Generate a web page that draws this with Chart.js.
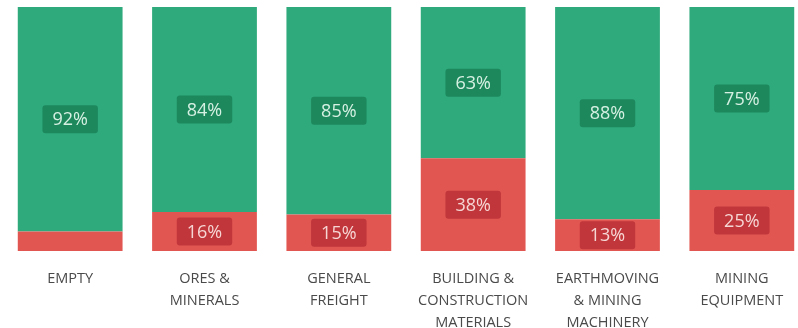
<!DOCTYPE html>
<html>
<head>
<meta charset="utf-8">
<script src="https://cdn.jsdelivr.net/npm/chart.js@4.4.1/dist/chart.umd.min.js"></script>
<style>
  html, body { margin: 0; padding: 0; background: #fff; overflow: hidden; }
  #wrap { width: 798px; height: 328px; overflow: hidden; position: relative; }
  canvas { position: absolute; left: 0; top: 0; }
</style>
</head>
<body>
<div id="wrap"><canvas id="cargoChart" width="812" height="351"></canvas></div>
<script>
const categories = [
  ["EMPTY"],
  ["ORES &", "MINERALS"],
  ["GENERAL", "FREIGHT"],
  ["BUILDING &", "CONSTRUCTION", "MATERIALS"],
  ["EARTHMOVING", "& MINING", "MACHINERY"],
  ["MINING", "EQUIPMENT"]
];
const loadedShare = [8, 16, 15, 38, 13, 25];
const otherShare = [92, 84, 85, 63, 88, 75];

const GREEN = "rgb(46,170,124)";
const RED = "rgb(226,86,82)";

// draws the value boxes in the middle of each segment
const valueBoxes = {
  id: "valueBoxes",
  afterDatasetsDraw(chart) {
    const ctx = chart.ctx;
    const area = chart.chartArea;
    const styles = [
      { box: "rgb(192,54,58)", text: "#f6d6d4" },
      { box: "rgb(30,136,93)", text: "#d6f0e2" }
    ];
    ctx.save();
    ctx.font = "18px 'Open Sans', sans-serif";
    ctx.textAlign = "center";
    ctx.textBaseline = "middle";
    chart.data.datasets.forEach((ds, di) => {
      const meta = chart.getDatasetMeta(di);
      meta.data.forEach((bar, i) => {
        const top = Math.max(bar.y, area.top);
        const h = bar.base - top;
        if (h < 24) return;
        const cy = (top + bar.base) / 2;
        const txt = ds.data[i] + "%";
        const w = ctx.measureText(txt).width + 20;
        const bh = 28;
        ctx.fillStyle = styles[di].box;
        ctx.beginPath();
        ctx.roundRect(bar.x - w / 2, cy - bh / 2, w, bh, 3);
        ctx.fill();
        ctx.fillStyle = styles[di].text;
        ctx.fillText(txt, bar.x, cy + 1);
      });
    });
    ctx.restore();
  }
};

new Chart(document.getElementById("cargoChart").getContext("2d"), {
  type: "bar",
  data: {
    labels: categories,
    datasets: [
      {
        label: "Loaded",
        data: loadedShare,
        backgroundColor: RED,
        borderWidth: 0,
        barPercentage: 0.78,
        categoryPercentage: 1
      },
      {
        label: "Other",
        data: otherShare,
        backgroundColor: GREEN,
        borderWidth: 0,
        barPercentage: 0.78,
        categoryPercentage: 1
      }
    ]
  },
  options: {
    responsive: false,
    animation: false,
    layout: { padding: { top: 7, left: 3, right: 3, bottom: 0 } },
    scales: {
      x: {
        stacked: true,
        grid: { display: false, drawTicks: false },
        border: { display: false },
        ticks: {
          color: "#4a4a4a",
          padding: 17,
          maxRotation: 0,
          autoSkip: false,
          font: { family: "'Open Sans', sans-serif", size: 14.5, lineHeight: 22 / 14.5 }
        }
      },
      y: {
        stacked: true,
        display: false,
        min: 0,
        max: 100
      }
    },
    plugins: {
      legend: { display: false },
      tooltip: { enabled: false }
    }
  },
  plugins: [valueBoxes]
});
</script>
</body>
</html>
